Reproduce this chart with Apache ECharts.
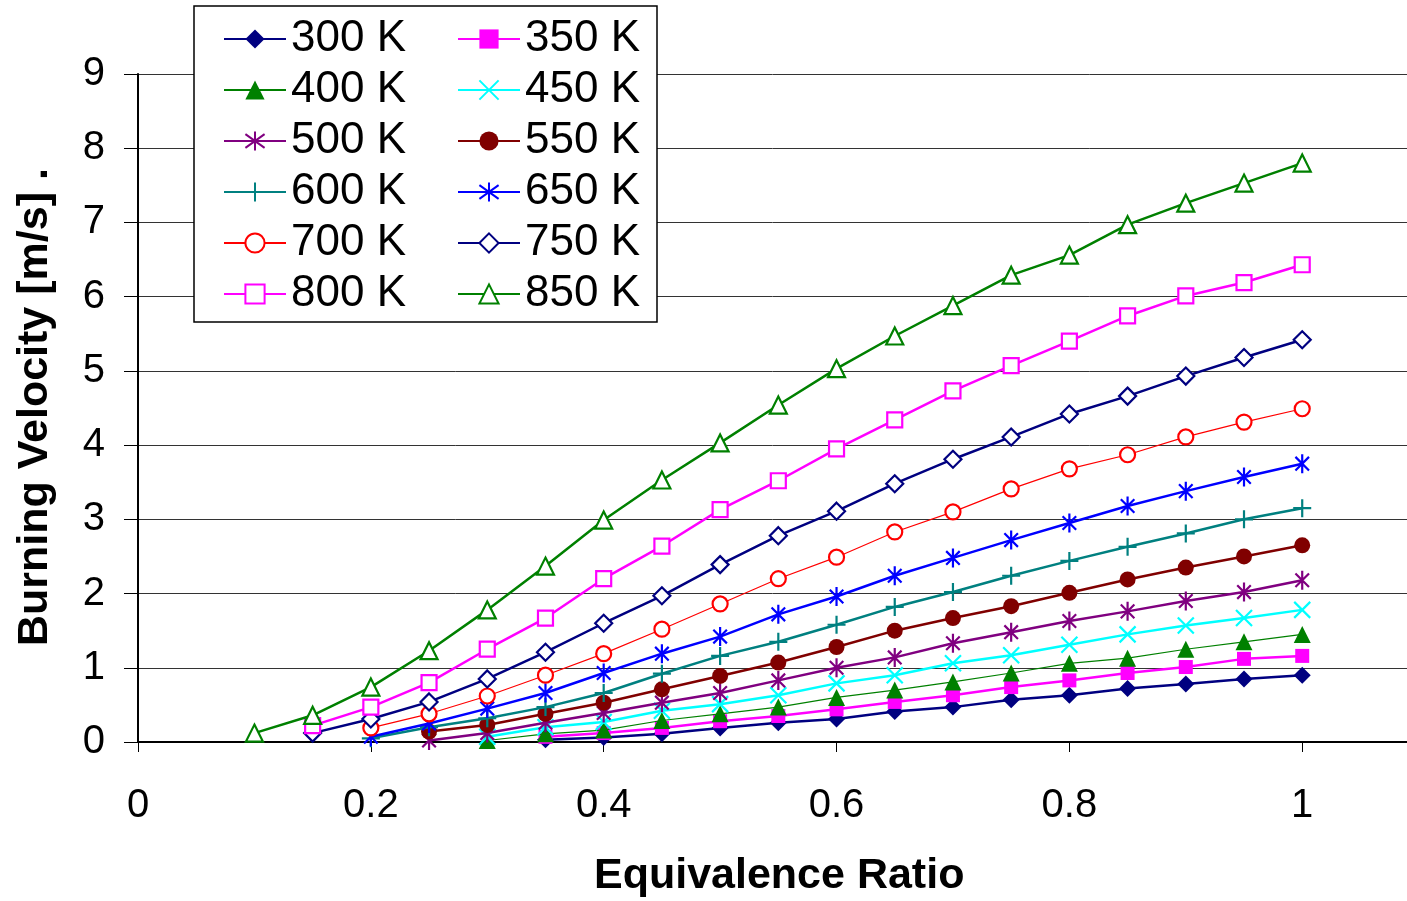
<!DOCTYPE html>
<html>
<head>
<meta charset="utf-8">
<script src="https://cdn.jsdelivr.net/npm/echarts@6/dist/echarts.min.js"></script>
<style>html,body{margin:0;padding:0;background:#fff;}#c{width:1407px;height:901px;}</style>
</head>
<body>
<div id="c"></div>
<script>
// Equivalence ratio values (x)
const phi = [0.1,0.15,0.2,0.25,0.3,0.35,0.4,0.45,0.5,0.55,0.6,0.65,0.7,0.75,0.8,0.85,0.9,0.95,1.0];
// Burning velocity [m/s] per initial temperature (null = no point)
const v300 = [null,null,null,null,null,0.03,0.06,0.11,0.19,0.26,0.31,0.41,0.47,0.57,0.63,0.72,0.78,0.85,0.90];
const v350 = [null,null,null,null,null,0.07,0.12,0.19,0.28,0.35,0.44,0.54,0.63,0.74,0.83,0.93,1.01,1.12,1.16];
const v400 = [null,null,null,null,0.02,0.11,0.16,0.29,0.38,0.47,0.60,0.70,0.81,0.93,1.06,1.13,1.25,1.35,1.45];
const v450 = [null,null,null,null,0.07,0.20,0.27,0.42,0.51,0.63,0.79,0.90,1.06,1.17,1.31,1.45,1.57,1.67,1.78];
const v500 = [null,null,null,0.02,0.12,0.26,0.39,0.53,0.66,0.83,1.00,1.14,1.33,1.48,1.63,1.76,1.90,2.02,2.18];
const v550 = [null,null,null,0.14,0.23,0.38,0.53,0.71,0.89,1.07,1.28,1.50,1.67,1.83,2.01,2.19,2.35,2.50,2.65];
const v600 = [null,null,0.05,0.20,0.32,0.47,0.66,0.92,1.16,1.35,1.58,1.82,2.02,2.24,2.44,2.63,2.81,3.00,3.15];
const v650 = [null,null,0.07,0.25,0.45,0.66,0.93,1.19,1.42,1.72,1.96,2.24,2.48,2.72,2.95,3.18,3.38,3.57,3.75];
const v700 = [null,null,0.19,0.38,0.62,0.90,1.19,1.52,1.86,2.20,2.49,2.83,3.10,3.41,3.68,3.87,4.11,4.31,4.49];
const v750 = [null,0.12,0.31,0.54,0.85,1.21,1.60,1.97,2.39,2.78,3.11,3.48,3.81,4.11,4.42,4.66,4.93,5.18,5.42];
const v800 = [null,0.22,0.47,0.80,1.25,1.67,2.20,2.64,3.13,3.52,3.95,4.34,4.73,5.07,5.40,5.74,6.01,6.19,6.43];
const v850 = [0.12,0.36,0.74,1.23,1.78,2.37,2.99,3.53,4.03,4.54,5.03,5.47,5.88,6.29,6.56,6.97,7.26,7.53,7.80];
const seriesNames = ['300 K','350 K','400 K','450 K','500 K','550 K','600 K','650 K','700 K','750 K','800 K','850 K'];
const seriesValues = [v300,v350,v400,v450,v500,v550,v600,v650,v700,v750,v800,v850];
const xTicks = ['0','0.2','0.4','0.6','0.8','1'];

const FONT = 'Liberation Sans, Arial, sans-serif';
const X = 'path://M0,0L10,10M10,0L0,10';
const AST = 'path://M0,0L10,10M10,0L0,10M5,-2L5,12';
const PLUS = 'path://M5,0L5,10M0,5L10,5';
const styles = [
  {c:'#000080', sym:'diamond', size:17, fill:true, lw:2.5},
  {c:'#FF00FF', sym:'rect', size:14, fill:true, lw:2.5},
  {c:'#008000', sym:'triangle', size:17, fill:true, lw:1.2},
  {c:'#00FFFF', sym:X, size:16, fill:false, stroke:true, lw:2.5},
  {c:'#800080', sym:AST, size:19, fill:false, stroke:true, lw:2.5},
  {c:'#800000', sym:'circle', size:16, fill:true, lw:2.5},
  {c:'#008080', sym:PLUS, size:18, fill:false, stroke:true, lw:2.5},
  {c:'#0000FF', sym:AST, size:19, fill:false, stroke:true, lw:2.5},
  {c:'#FF0000', sym:'circle', size:15, fill:false, lw:1.2},
  {c:'#000080', sym:'diamond', size:17, fill:false, lw:2.5},
  {c:'#FF00FF', sym:'rect', size:15, fill:false, lw:2.5},
  {c:'#008000', sym:'triangle', size:17, fill:false, lw:2.5}
];

const series = seriesNames.map((name, i) => {
  const s = styles[i];
  const data = [];
  seriesValues[i].forEach((v, j) => { if (v !== null) data.push([phi[j], v]); });
  let itemStyle;
  if (s.stroke) itemStyle = {color: s.c, borderColor: s.c, borderWidth: 2.2};
  else if (s.fill) itemStyle = {color: s.c, borderColor: s.c, borderWidth: 0};
  else itemStyle = {color: '#ffffff', borderColor: s.c, borderWidth: 2.2};
  return {
    name, type: 'line', data,
    symbol: s.sym, symbolSize: s.size, showAllSymbol: true, symbolKeepAspect: true,
    lineStyle: {color: s.c, width: s.lw},
    itemStyle,
    emphasis: {disabled: true},
    animation: false,
    z: 2 + i * 0.01
  };
});

const legendBase = {
  orient: 'vertical',
  itemWidth: 62, itemHeight: 24, itemGap: 5,
  textStyle: {fontFamily: FONT, fontSize: 44, color: '#000', lineHeight: 46},
  selectedMode: false,
  z: 10
};

const chart = echarts.init(document.getElementById('c'), null, {renderer: 'canvas'});
chart.setOption({
  backgroundColor: '#ffffff',
  animation: false,
  grid: {left: 138, top: 74, right: 0, height: 668, containLabel: false},
  xAxis: {
    type: 'value', min: 0, max: 1.09, interval: 0.2,
    axisLine: {show: true, lineStyle: {color: '#000', width: 2}},
    axisTick: {show: true, length: 10, lineStyle: {color: '#000', width: 1}},
    axisLabel: {fontFamily: FONT, fontSize: 40, color: '#000', margin: 44, showMaxLabel: false,
      formatter: (v) => { const i = Math.round(v / 0.2); return (Math.abs(v - i * 0.2) < 1e-6 && i < xTicks.length) ? xTicks[i] : ''; }},
    splitLine: {show: false}
  },
  yAxis: {
    type: 'value', min: 0, max: 9, interval: 1,
    axisLine: {show: true, lineStyle: {color: '#000', width: 2}},
    axisTick: {show: true, length: 14, lineStyle: {color: '#000', width: 1}},
    axisLabel: {fontFamily: FONT, fontSize: 40, color: '#000', margin: 33},
    splitLine: {show: true, lineStyle: {color: '#333', width: 1}}
  },
  legend: [
    Object.assign({}, legendBase, {left: 218, top: 11, data: ['300 K','400 K','500 K','600 K','700 K','800 K']}),
    Object.assign({}, legendBase, {left: 452, top: 11, data: ['350 K','450 K','550 K','650 K','750 K','850 K']})
  ],
  graphic: [
    {type: 'rect', z: 5, shape: {x: 194, y: 6, width: 463, height: 316},
      style: {fill: '#ffffff', stroke: '#000', lineWidth: 1.5}},
    {type: 'text', z: 5, x: 594, y: 855,
      style: {text: 'Equivalence Ratio', font: 'bold 43px ' + FONT, fill: '#000'}},
    {type: 'text', z: 5, rotation: Math.PI / 2, x: 14, y: 646,
      style: {text: 'Burning Velocity [m/s] .', font: 'bold 43px ' + FONT, fill: '#000', textVerticalAlign: 'top'}}
  ],
  series
});
</script>
</body>
</html>
